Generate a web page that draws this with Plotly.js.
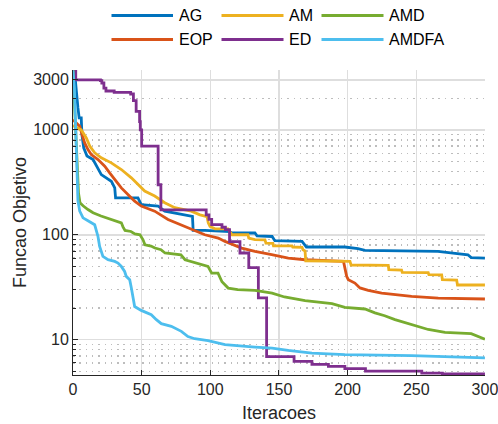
<!DOCTYPE html>
<html>
<head>
<meta charset="utf-8">
<script src="https://cdn.plot.ly/plotly-3.0.1.min.js"></script>
<style>
  html, body { margin: 0; padding: 0; background: #ffffff; }
  #chart { width: 498px; height: 424px; }
</style>
</head>
<body>
<div id="chart"></div>
<script>
// ---- data ----
const seriesNames = ["AG", "EOP", "AM", "ED", "AMD", "AMDFA"];
const seriesColors = ["#0072BD", "#D95319", "#EDB120", "#7E2F8E", "#77AC30", "#4DBEEE"];

const agIter = [0, 1.2, 3.6, 4.5, 6, 6.5, 7.8, 10.2, 14.6, 18.2, 20.6, 27.9, 30.4, 31, 47.3, 49.7, 61.9, 66.8, 79, 87, 87.5, 96, 114, 116, 132.5, 134, 145, 147, 166.8, 169, 170, 198, 207.5, 212.6, 265.8, 276.7, 287.6, 290, 300];
const agVal  = [3700, 3500, 1620, 1300, 1300, 900, 675, 563, 521, 434, 375, 324, 280, 225, 225, 194, 188, 168, 156, 150, 110, 110, 107, 104, 104, 97.8, 96.3, 87.7, 86.4, 80.3, 76.4, 76.4, 73.6, 70.9, 69.3, 66.9, 64.5, 60.5, 60];

const eopIter = [0, 3, 4.9, 6.6, 8.5, 10.9, 13.3, 18.2, 23.1, 26.7, 30.4, 35.2, 40, 44.9, 49.7, 59.5, 69.2, 87.4, 96, 105.8, 110.7, 122.8, 132.5, 144.7, 156.8, 169, 197, 198.5, 199.3, 200.5, 205.3, 209, 215, 224.8, 234.5, 246.6, 266, 300];
const eopVal  = [1250, 1150, 1085, 902, 752, 649, 582, 521, 451, 389, 336, 280, 242, 209, 188, 168, 140, 111, 100, 93, 86.4, 74.6, 69.3, 64.5, 60, 57.8, 55.7, 45, 40.1, 37.3, 34.6, 31.1, 29.5, 27.8, 26.8, 25.8, 24.9, 24.4];

const amIter = [0, 3.9, 6, 9.7, 12.2, 15.8, 20.6, 27.9, 35.2, 42.5, 47.3, 52.2, 59.5, 66.8, 74.1, 86.1, 92.5, 97.6, 98.5, 99.8, 103.4, 112.9, 114.3, 115.8, 127.4, 128, 132.5, 139.8, 140.5, 145.6, 146, 159.5, 160, 166.8, 167.5, 169, 169.5, 201.7, 202.5, 229.6, 230, 239.3, 239.8, 258.7, 259.2, 268.5, 269, 279.4, 280, 300];
const amVal  = [1100, 1037, 1000, 839, 700, 604, 541, 485, 419, 349, 301, 261, 234, 202, 181, 168, 155, 149, 130, 120, 114, 114, 107, 100, 100, 93, 90, 89.6, 83.4, 83, 78.5, 78.5, 76.4, 76, 72, 70, 56.5, 55.7, 51.5, 51, 46.4, 46, 43.7, 43.5, 41.6, 41.4, 37.3, 37, 33.2, 33.2];

// ED is a staircase: each value holds until the next iteration listed
const edIter = [0, 2, 20, 21, 22.5, 24, 30, 42, 44, 46, 48.5, 49, 50, 62, 64, 97, 99, 101, 108.5, 111, 114, 121.6, 128, 135, 141, 161, 174, 186, 198, 213, 254, 269, 300];
const edVal  = [3650, 3000, 2950, 2800, 2500, 2350, 2280, 2200, 1900, 1500, 1200, 1000, 700, 300, 173, 155, 140, 125, 118, 112, 86, 67, 48.5, 25, 6.9, 6.2, 5.8, 5.55, 5.3, 5.0, 4.8, 4.7, 4.7];

const amdIter = [0, 1, 2, 3, 4, 5.1, 7.3, 10.9, 14.6, 20.4, 27.7, 32.8, 35.2, 36.4, 37.9, 42.2, 45.1, 48.8, 51, 52.4, 56.8, 59.7, 64.1, 67, 78.6, 81.6, 88.8, 98.3, 101, 105.6, 108.5, 113, 120, 132.5, 145, 154, 169, 188.6, 198, 212.6, 219.9, 227, 234.5, 246.6, 258.7, 270.9, 290, 300];
const amdVal  = [3700, 1800, 800, 400, 250, 202, 189, 174, 162, 151, 140, 133, 130, 119, 110, 107.5, 102, 100, 89.6, 80.3, 78, 74.7, 72, 67, 64.5, 57.8, 54, 50, 43.1, 43, 35.6, 31, 30, 29.5, 27.8, 25.5, 23.5, 22, 20.3, 19.6, 18, 16.9, 15.5, 13.9, 12.5, 11.7, 11.4, 10.1];

const amdfaIter = [0, 1, 2, 3, 3.6, 4.9, 7.3, 10.9, 13.1, 15.8, 18.2, 19.4, 21.8, 25.5, 30.4, 32.8, 35.2, 37.6, 38.8, 41.3, 42.5, 43.7, 44.9, 49.7, 57, 60.7, 64.3, 71.6, 78.9, 83.7, 88.6, 98.3, 110.7, 132.5, 145, 156.6, 174, 198, 246.6, 300];
const amdfaVal  = [3700, 2500, 1000, 400, 211, 168, 145, 136, 130, 124.5, 96.3, 77.4, 62.1, 57.8, 55.7, 53.7, 49.9, 44.7, 40.1, 37.3, 31, 24, 20.7, 19, 17.3, 15.5, 14.2, 13.4, 12, 10.7, 10.2, 9.78, 8.96, 8.5, 8.3, 7.9, 7.45, 7.2, 7.04, 6.7];

const xTickVals = [0, 50, 100, 150, 200, 250, 300];
const yTickVals = [10, 100, 1000, 3000];
const yTickText = ["10", "100", "1000", "3000"];

const xSeries = [agIter, eopIter, amIter, edIter, amdIter, amdfaIter];
const ySeries = [agVal, eopVal, amVal, edVal, amdVal, amdfaVal];
const lineShapes = ["linear", "linear", "linear", "hv", "linear", "linear"];

// ---- figure ----
const W = 498, H = 424;
const M = { l: 73, r: 13, t: 70, b: 49 };
const pw = W - M.l - M.r, ph = H - M.t - M.b;
const px2x = p => (p - M.l) / pw;
const px2y = p => (H - M.b - p) / ph;

const traces = seriesNames.map((name, i) => ({
  type: "scatter",
  mode: "lines",
  name: name,
  x: xSeries[i],
  y: ySeries[i],
  line: { color: seriesColors[i], width: 2.8, shape: lineShapes[i] },
  showlegend: false,
  hoverinfo: "skip"
}));

// legend drawn as a 3-column grid (column-major order, like the original)
const legendCols = [
  { line0: 111.5, line1: 173, text: 177 },
  { line0: 221.5, line1: 283.5, text: 287 },
  { line0: 321.5, line1: 383.5, text: 387 }
];
const legendRows = [15.5, 39.5];
const shapes = [];
const annotations = [];
seriesNames.forEach((name, i) => {
  const c = legendCols[Math.floor(i / 2)];
  const r = legendRows[i % 2];
  shapes.push({
    type: "line", xref: "paper", yref: "paper",
    x0: px2x(c.line0), x1: px2x(c.line1), y0: px2y(r), y1: px2y(r),
    line: { color: seriesColors[i], width: 2.8 }
  });
  annotations.push({
    xref: "paper", yref: "paper", x: px2x(c.text), y: px2y(r),
    xanchor: "left", yanchor: "middle", showarrow: false,
    text: name, font: { family: "Liberation Sans, Arial, sans-serif", size: 16, color: "#000000" }
  });
});

const layout = {
  width: W, height: H,
  margin: M,
  paper_bgcolor: "#ffffff",
  plot_bgcolor: "#ffffff",
  font: { family: "Liberation Sans, Arial, sans-serif", size: 16, color: "#262626" },
  showlegend: false,
  xaxis: {
    range: [0, 300.05],
    tickmode: "array",
    tickvals: xTickVals,
    ticklabeloverflow: "allow",
    ticks: "inside", ticklen: 5, tickwidth: 1, tickcolor: "#262626",
    showline: true, linecolor: "#262626", linewidth: 1,
    showgrid: true, gridcolor: "#dedede", gridwidth: 1.5,
    zeroline: false,
    tickfont: { size: 16, color: "#262626" },
    title: { text: "Iteracoes", font: { size: 18, color: "#262626" }, standoff: 9 }
  },
  yaxis: {
    type: "log",
    range: [Math.log10(4.6), Math.log10(3725)],
    tickmode: "array",
    tickvals: yTickVals,
    ticktext: yTickText,
    ticklabeloverflow: "allow",
    ticks: "inside", ticklen: 5, tickwidth: 1, tickcolor: "#262626",
    showline: true, linecolor: "#262626", linewidth: 1,
    showgrid: true, gridcolor: "#dedede", gridwidth: 1.5,
    zeroline: false,
    tickfont: { size: 16, color: "#262626" },
    minor: {
      dtick: "D1",
      ticks: "inside", ticklen: 3, tickcolor: "#262626",
      showgrid: true, gridcolor: "#bdbdbd", gridwidth: 1.3, griddash: "1.5px,4.8px"
    },
    title: { text: "Funcao Objetivo", font: { size: 18, color: "#262626" }, standoff: 1 }
  },
  shapes: shapes,
  annotations: annotations
};

Plotly.newPlot("chart", traces, layout, { displayModeBar: false, staticPlot: true });
</script>
</body>
</html>
